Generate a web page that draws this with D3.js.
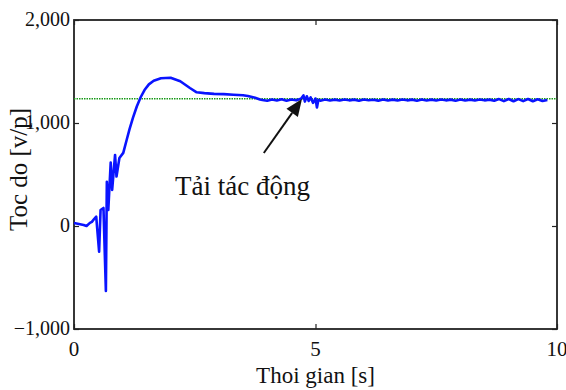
<!DOCTYPE html>
<html>
<head>
<meta charset="utf-8">
<script src="https://cdn.jsdelivr.net/npm/d3@7"></script>
<style>
  body { margin: 0; background: #fff; }
</style>
</head>
<body>
<svg id="chart" width="566" height="390"></svg>
<script>
const width = 566
const height = 390
const margin = { top: 20, right: 9, bottom: 61, left: 74 }
const serif = "'Liberation Serif', 'DejaVu Serif', serif"

// x ticks and y ticks
const xTicks = [0, 5, 10]
const yTicks = [-1000, 0, 1000, 2000]

// reference speed (green dotted)
const refSpeed = 1236

// measured speed, time in seconds
const timeS = [0, 0.1, 0.2, 0.26, 0.33, 0.37, 0.42, 0.46, 0.52, 0.55, 0.61, 0.66, 0.68, 0.71, 0.76, 0.79,
  0.85, 0.88, 0.94, 1.02, 1.09, 1.15, 1.22, 1.3, 1.38, 1.46, 1.55, 1.65, 1.8, 2.0, 2.2, 2.4, 2.54, 2.7, 2.9, 3.1, 3.3, 3.5,
  3.6, 3.75, 3.85, 3.9, 4.0, 4.1, 4.2, 4.3, 4.4, 4.5, 4.6, 4.7, 4.75, 4.78, 4.82, 4.86, 4.9, 4.95, 5.0,
  5.03, 5.06, 5.1, 5.2, 5.3, 5.4, 5.5, 5.6, 5.7, 5.8, 5.9, 6.0, 6.1, 6.2, 6.3, 6.4, 6.5, 6.6, 6.7, 6.8,
  6.9, 7.0, 7.1, 7.2, 7.3, 7.4, 7.5, 7.6, 7.7, 7.8, 7.9, 8.0, 8.1, 8.2, 8.3, 8.4, 8.5, 8.6, 8.7, 8.8,
  8.9, 9.0, 9.1, 9.2, 9.3, 9.4, 9.5, 9.6, 9.7, 9.8, 9.9, 10]
const speed = [30, 20, 10, 0, 30, 40, 70, 90, -250, 155, 175, -630, 430, 155, 615, 350,
  690, 480, 660, 710, 835, 940, 1050, 1160, 1250, 1320, 1375, 1410, 1435, 1440, 1405, 1340, 1298, 1290, 1283, 1280, 1274, 1270,
  1262, 1245, 1228, 1224, 1216, 1228, 1218, 1230, 1216, 1228, 1220, 1236, 1268, 1208, 1260, 1214, 1248, 1195, 1238,
  1150, 1226, 1217, 1228, 1219, 1227, 1218, 1229, 1220, 1227, 1216, 1228, 1221, 1226, 1217, 1229, 1219, 1227, 1218,
  1228, 1220, 1227, 1217, 1229, 1219, 1227, 1218, 1228, 1220, 1227, 1217, 1229, 1219, 1227, 1218, 1228,
  1220, 1227, 1216, 1232, 1212, 1233, 1211, 1232, 1212, 1233, 1211, 1231, 1213, 1224]

// annotation
const noteText = "Tải tác động"
const notePos = [2.09, 300]
const arrowFrom = [3.93, 709]
const arrowTo = [4.72, 1233]

const svg = d3.select('#chart')

const x = d3.scaleLinear().domain([0, 10]).range([margin.left, width - margin.right])
const y = d3.scaleLinear().domain([-1000, 2000]).range([height - margin.bottom, margin.top])

const fmt = d3.format(',')

// frame
svg.append('rect')
  .attr('x', x(0)).attr('y', y(2000))
  .attr('width', x(10) - x(0)).attr('height', y(-1000) - y(2000))
  .attr('fill', 'none').attr('stroke', '#222').attr('stroke-width', 1.8)

// inward ticks on all four sides
const tickLen = 5
svg.append('g').attr('transform', `translate(0,${y(-1000)})`)
  .call(d3.axisBottom(x).tickValues(xTicks).tickSize(-tickLen).tickFormat(''))
svg.append('g').attr('transform', `translate(0,${y(2000)})`)
  .call(d3.axisTop(x).tickValues(xTicks).tickSize(-tickLen).tickFormat(''))
svg.append('g').attr('transform', `translate(${x(0)},0)`)
  .call(d3.axisLeft(y).tickValues(yTicks).tickSize(-tickLen).tickFormat(''))
svg.append('g').attr('transform', `translate(${x(10)},0)`)
  .call(d3.axisRight(y).tickValues(yTicks).tickSize(-tickLen).tickFormat(''))
svg.selectAll('.domain').remove()
svg.selectAll('.tick line').attr('stroke', '#222').attr('stroke-width', 1.2)

// tick labels
svg.append('g').selectAll('text').data(yTicks).join('text')
  .attr('x', x(0) - 4).attr('y', d => y(d) + 6)
  .attr('text-anchor', 'end').attr('font-size', 20).attr('font-family', serif).attr('fill', '#111')
  .text(d => fmt(d))
svg.append('g').selectAll('text').data(xTicks).join('text')
  .attr('x', d => x(d)).attr('y', y(-1000) + 27)
  .attr('text-anchor', 'middle').attr('font-size', 21).attr('font-family', serif).attr('fill', '#111')
  .text(d => d)

// axis titles
svg.append('text')
  .attr('x', x(5)).attr('y', 383)
  .attr('text-anchor', 'middle').attr('font-size', 23).attr('font-family', serif).attr('fill', '#111')
  .text('Thoi gian [s]')
svg.append('text')
  .attr('transform', `translate(27,${y(500) - 5}) rotate(-90)`)
  .attr('text-anchor', 'middle').attr('font-size', 25).attr('font-family', serif).attr('fill', '#111')
  .text('Toc do [v/p]')

// reference line
svg.append('line')
  .attr('x1', x(0)).attr('x2', x(10))
  .attr('y1', y(refSpeed)).attr('y2', y(refSpeed))
  .attr('stroke', '#1a9a1a').attr('stroke-width', 1.5).attr('stroke-dasharray', '1.5,1')

// speed line
const line = d3.line().x(d => x(d[0])).y(d => y(d[1]))
svg.append('path')
  .datum(timeS.map((t, i) => [t, speed[i]]))
  .attr('d', line)
  .attr('fill', 'none').attr('stroke', '#0a14ff').attr('stroke-width', 2.6)
  .attr('stroke-linejoin', 'round')

// arrow
const ax0 = x(arrowFrom[0]), ay0 = y(arrowFrom[1])
const ax1 = x(arrowTo[0]), ay1 = y(arrowTo[1])
const ang = Math.atan2(ay1 - ay0, ax1 - ax0)
const headLen = 17, headW = 7
const bx = ax1 - headLen * Math.cos(ang), by = ay1 - headLen * Math.sin(ang)
svg.append('line')
  .attr('x1', ax0).attr('y1', ay0).attr('x2', bx).attr('y2', by)
  .attr('stroke', '#111').attr('stroke-width', 2)
svg.append('polygon')
  .attr('points', [
    [ax1, ay1],
    [bx + headW * Math.sin(ang), by - headW * Math.cos(ang)],
    [bx - headW * Math.sin(ang), by + headW * Math.cos(ang)]
  ].map(p => p.join(',')).join(' '))
  .attr('fill', '#111')

svg.append('text')
  .attr('x', x(notePos[0])).attr('y', y(notePos[1]))
  .attr('font-size', 27).attr('font-family', serif).attr('fill', '#111')
  .text(noteText)
</script>
</body>
</html>
